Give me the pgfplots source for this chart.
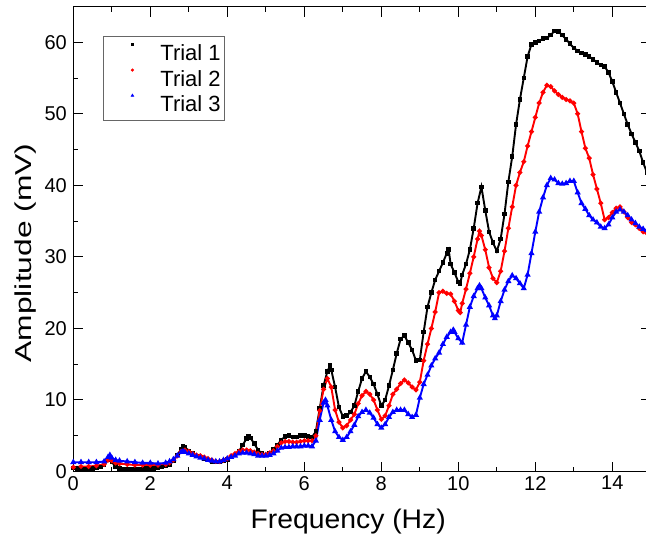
\documentclass[border=0pt]{standalone}
\usepackage{fontspec}
\setmainfont{Liberation Sans}
\usepackage{pgfplots}
\usepackage{pgfplotstable}
\pgfplotsset{compat=1.18}

\pgfplotstableread{
f v
0.0 0.5
0.1 0.4
0.2 0.4
0.3 0.3
0.4 0.3
0.5 0.4
0.6 0.5
0.7 0.6
0.8 0.9
0.9 1.6
0.95 1.9
1.0 1.3
1.1 0.7
1.2 0.4
1.3 0.3
1.4 0.3
1.5 0.3
1.6 0.3
1.7 0.3
1.8 0.3
1.9 0.4
2.0 0.4
2.1 0.4
2.2 0.5
2.3 0.6
2.4 0.8
2.5 1.0
2.6 1.5
2.7 2.3
2.8 3.1
2.85 3.6
2.9 3.4
3.0 2.9
3.1 2.5
3.2 2.2
3.3 2.0
3.4 1.8
3.5 1.6
3.6 1.4
3.7 1.3
3.8 1.3
3.9 1.5
4.0 1.7
4.1 2.0
4.2 2.3
4.3 2.8
4.4 3.7
4.5 4.6
4.55 4.9
4.6 4.7
4.7 3.9
4.8 3.0
4.9 2.5
5.0 2.3
5.1 2.6
5.2 3.1
5.3 3.7
5.4 4.4
5.5 4.9
5.6 5.0
5.7 4.8
5.8 4.8
5.9 5.0
6.0 5.0
6.1 4.9
6.2 4.8
6.3 5.6
6.4 8.8
6.5 12.0
6.6 14.0
6.67 14.8
6.7 14.2
6.8 11.8
6.9 9.0
7.0 7.7
7.1 7.8
7.2 8.3
7.3 9.2
7.4 11.2
7.5 13.0
7.6 14.0
7.7 13.2
7.8 12.2
7.9 10.8
8.0 9.2
8.1 10.0
8.2 12.0
8.3 14.2
8.4 16.5
8.5 18.5
8.6 19.0
8.7 18.0
8.8 17.0
8.9 15.5
9.0 15.6
9.1 19.5
9.2 23.0
9.3 25.0
9.4 26.8
9.5 28.0
9.6 29.2
9.7 30.5
9.75 31.0
9.8 29.0
9.9 27.8
10.0 26.5
10.05 26.3
10.1 27.5
10.2 29.0
10.3 31.0
10.4 34.0
10.5 37.5
10.6 39.8
10.7 36.5
10.8 33.5
10.9 32.0
11.0 30.8
11.1 32.5
11.2 36.0
11.3 40.5
11.4 44.0
11.5 48.5
11.6 52.0
11.7 55.0
11.8 58.0
11.9 59.7
12.0 60.0
12.1 60.2
12.2 60.5
12.3 60.6
12.4 61.0
12.5 61.6
12.6 61.5
12.7 61.0
12.8 60.4
12.9 59.8
13.0 59.2
13.1 58.8
13.2 58.5
13.3 58.3
13.4 58.0
13.5 57.6
13.6 57.2
13.7 56.8
13.8 56.6
13.9 55.8
14.0 54.5
14.1 53.0
14.2 51.5
14.3 50.0
14.4 48.5
14.5 47.2
14.6 46.0
14.7 44.8
14.8 43.2
14.9 41.8
}\trialone

\pgfplotstableread{
f v
0.0 0.6
0.2 0.7
0.4 0.7
0.6 0.8
0.8 1.0
0.9 1.6
0.95 1.8
1.0 1.5
1.1 1.2
1.2 1.1
1.4 1.0
1.6 0.9
1.8 0.9
2.0 0.9
2.2 0.9
2.4 1.0
2.5 1.2
2.6 1.6
2.7 2.2
2.8 2.8
2.9 3.0
3.0 2.8
3.1 2.5
3.2 2.3
3.3 2.2
3.4 2.0
3.5 1.8
3.6 1.6
3.7 1.4
3.8 1.4
3.9 1.6
4.0 1.8
4.1 2.2
4.2 2.5
4.3 2.8
4.4 3.0
4.5 3.0
4.6 2.9
4.7 2.7
4.8 2.5
4.9 2.4
5.0 2.4
5.1 2.6
5.2 2.9
5.3 3.5
5.4 4.0
5.5 4.2
5.6 4.2
5.7 4.1
5.8 4.1
5.9 4.2
6.0 4.3
6.1 4.3
6.2 4.3
6.3 5.0
6.4 8.5
6.5 11.5
6.6 13.0
6.7 11.8
6.8 8.6
6.9 6.9
7.0 6.1
7.1 6.4
7.2 7.2
7.3 8.0
7.4 9.5
7.5 10.6
7.6 11.2
7.7 10.8
7.8 10.0
7.9 8.6
8.0 7.3
8.1 7.8
8.2 9.2
8.3 10.8
8.4 11.5
8.5 12.3
8.6 12.8
8.7 12.4
8.8 11.8
8.9 11.4
9.0 12.5
9.1 15.5
9.2 17.8
9.3 20.0
9.4 22.3
9.5 25.0
9.6 25.2
9.7 24.9
9.8 24.8
9.9 23.8
10.0 22.5
10.05 22.2
10.1 23.5
10.2 25.5
10.3 27.7
10.4 30.0
10.5 32.5
10.55 33.6
10.6 33.0
10.7 31.0
10.8 28.5
10.9 27.0
11.0 26.4
11.1 28.0
11.2 30.8
11.3 34.0
11.4 37.0
11.5 40.0
11.6 41.8
11.7 43.3
11.8 45.5
11.9 47.5
12.0 49.5
12.1 51.5
12.2 53.0
12.3 54.0
12.4 53.8
12.5 53.2
12.6 52.7
12.7 52.3
12.8 52.0
12.9 51.8
13.0 51.5
13.1 50.0
13.2 47.5
13.3 45.2
13.4 43.8
13.5 41.5
13.6 39.5
13.7 37.5
13.8 35.2
13.9 35.5
14.0 36.2
14.1 36.8
14.2 37.0
14.3 36.3
14.4 35.5
14.5 34.8
14.6 34.5
14.7 34.0
14.8 33.5
14.9 33.3
}\trialtwo

\pgfplotstableread{
f v
0.0 1.3
0.2 1.3
0.4 1.3
0.6 1.3
0.8 1.4
0.9 2.0
0.95 2.3
1.0 1.9
1.1 1.6
1.2 1.5
1.4 1.4
1.6 1.3
1.8 1.2
2.0 1.2
2.2 1.1
2.4 1.2
2.5 1.4
2.6 1.7
2.7 2.2
2.8 2.7
2.85 2.8
2.9 2.7
3.0 2.5
3.1 2.3
3.2 2.1
3.3 1.9
3.4 1.8
3.5 1.6
3.6 1.5
3.7 1.4
3.8 1.4
3.9 1.6
4.0 1.8
4.1 2.0
4.2 2.2
4.3 2.5
4.4 2.6
4.5 2.6
4.6 2.5
4.7 2.4
4.8 2.2
4.9 2.2
5.0 2.2
5.1 2.3
5.2 2.5
5.3 2.9
5.4 3.3
5.5 3.4
5.6 3.4
5.7 3.5
5.8 3.5
5.9 3.5
6.0 3.6
6.1 3.6
6.2 3.5
6.3 4.3
6.4 7.2
6.5 9.6
6.55 10.0
6.6 9.2
6.7 7.2
6.8 5.6
6.9 4.8
7.0 4.4
7.1 4.8
7.2 5.6
7.3 6.5
7.4 7.7
7.5 8.3
7.6 8.6
7.7 8.2
7.8 7.5
7.9 6.6
8.0 6.1
8.1 6.6
8.2 7.6
8.3 8.3
8.4 8.6
8.5 8.6
8.6 8.6
8.7 8.0
8.8 7.6
8.9 7.9
9.0 10.3
9.1 12.2
9.2 13.5
9.3 14.8
9.4 15.8
9.5 16.6
9.6 17.8
9.7 18.8
9.8 19.5
9.87 19.8
9.9 19.5
10.0 18.6
10.1 18.0
10.2 20.5
10.3 23.0
10.4 24.5
10.5 25.6
10.55 26.0
10.6 25.6
10.7 24.3
10.8 23.2
10.9 21.8
10.95 21.4
11.0 21.8
11.1 23.8
11.2 25.4
11.3 26.6
11.4 27.4
11.5 27.0
11.6 26.3
11.7 25.6
11.8 27.5
11.9 30.5
12.0 33.5
12.1 36.3
12.2 38.3
12.3 40.0
12.4 41.0
12.5 40.8
12.6 40.3
12.7 40.2
12.8 40.3
12.9 40.6
13.0 40.6
13.1 39.0
13.2 37.5
13.3 36.7
13.4 35.8
13.5 35.2
13.6 34.8
13.7 34.2
13.8 34.0
13.9 34.5
14.0 35.5
14.1 36.3
14.2 36.6
14.3 36.3
14.4 35.8
14.5 35.2
14.6 34.7
14.7 34.2
14.8 33.9
14.9 33.7
}\trialthree

\begin{document}
\begin{tikzpicture}
\begin{axis}[
  scale only axis,
  width=577.5pt, height=465pt,
  xmin=0, xmax=15, ymin=0, ymax=65,
  xtick={0,2,...,14},
  minor xtick={1,3,...,15},
  ytick={0,10,...,60},
  minor ytick={5,15,...,65},
  tick align=inside,
  major tick length=10pt,
  minor tick length=5pt,
  every tick/.style={black, line width=1pt},
  axis line style={line width=1.2pt},
  tick label style={font=\fontsize{20}{20}\selectfont},
  yticklabel style={xshift=-3pt},
  xticklabel style={yshift=-1pt},
  /pgf/number format/assume math mode=true,
  xlabel={\scalebox{1.18}[1.12]{Frequency (Hz)}},
  ylabel={\scalebox{1.38}[1]{Amplitude (mV)}},
  xlabel style={font=\fontsize{24}{24}\selectfont, at={(axis description cs:0.476,-0.108)}, anchor=center},
  ylabel style={font=\fontsize{23}{23}\selectfont, at={(axis description cs:-0.082,0.47)}, anchor=center},
  legend style={at={(axis description cs:0.052,0.9376)}, anchor=north west,
    draw=gray!80!black, line width=0.7pt, font=\fontsize{22}{25}\selectfont,
    inner xsep=2pt, inner ysep=3.75pt, row sep=0pt,
    nodes={inner xsep=2pt, inner ysep=0pt, text height=21.3pt, text depth=4.2pt}},
  legend cell align=left,
  legend image code/.code={\path (0pt,0pt) (52pt,0pt); \draw[#1] plot coordinates {(26.4pt,7.8pt)};},
]
\addlegendimage{only marks, mark=square*, black, mark size=1.1pt}
\addlegendentry{Trial 1}
\addlegendimage{only marks, mark=*, red, mark size=1.2pt}
\addlegendentry{Trial 2}
\addlegendimage{only marks, mark=triangle*, blue, mark size=1.4pt}
\addlegendentry{Trial 3}
\addplot[black, line width=1.9pt, mark=square*, mark size=1.3pt, forget plot] table[x=f,y=v] {\trialone};
\addplot[red, line width=1.9pt, mark=*, mark size=1.4pt, forget plot] table[x=f,y=v] {\trialtwo};
\addplot[blue, line width=1.9pt, mark=triangle*, mark size=1.7pt, forget plot] table[x=f,y=v] {\trialthree};
\coordinate (bbSW) at (axis cs:-1.904,-9.68);
\coordinate (bbNE) at (axis cs:14.875,65.91);
\end{axis}
\pgfresetboundingbox
\useasboundingbox (bbSW) rectangle (bbNE);
\end{tikzpicture}
\end{document}
